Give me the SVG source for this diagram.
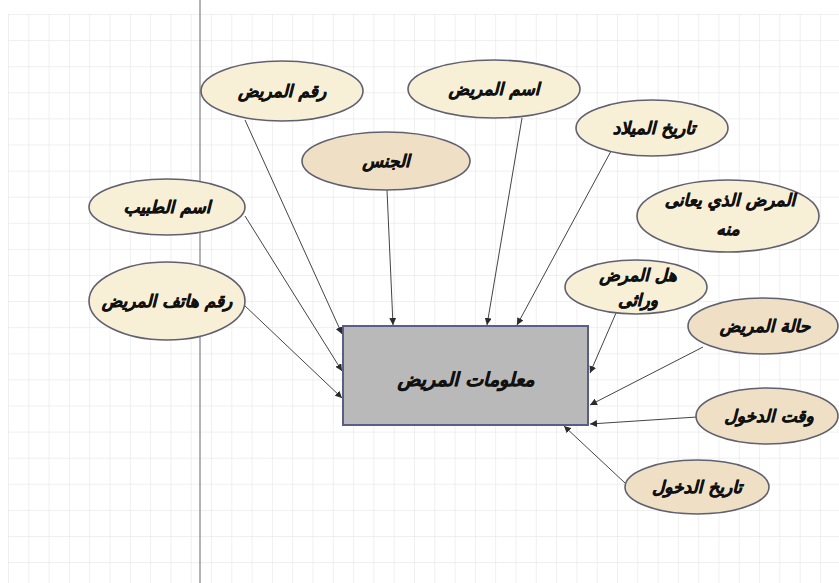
<svg xmlns="http://www.w3.org/2000/svg" width="839" height="583" viewBox="0 0 839 583">
<defs>
<pattern id="grid" x="8" y="14" width="20.3" height="26.1" patternUnits="userSpaceOnUse">
<path d="M0 0 V26.1 M0 0 H20.3" fill="none" stroke="#e0e0e0" stroke-width="1"/>
</pattern>
<marker id="arr" viewBox="0 0 10 10" refX="10" refY="5" markerWidth="7" markerHeight="7" orient="auto" markerUnits="userSpaceOnUse">
<path d="M0 0 L10 5 L0 10 z" fill="#2a2a2a"/>
</marker>
</defs>
<style>
.e1{fill:#f8f0d6;stroke:#5f6070;stroke-width:1.6}
.e2{fill:#efdfc4;stroke:#5f6070;stroke-width:1.6}
.t{font-family:"DejaVu Sans",sans-serif;font-weight:bold;font-style:italic;font-size:17px;fill:#111;stroke:#111;stroke-width:0.5;text-anchor:middle;direction:rtl}
.c{stroke:#444;stroke-width:1;fill:none;marker-end:url(#arr)}
</style>
<rect width="839" height="583" fill="#ffffff"/>
<rect x="8" y="14" width="831" height="569" fill="url(#grid)"/>
<line x1="200" y1="0" x2="200" y2="583" stroke="#9a9a9a" stroke-width="1.5"/>

<g id="connectors">
<line class="c" x1="245" y1="120" x2="342" y2="334"/>
<line class="c" x1="245" y1="216" x2="342" y2="371"/>
<line class="c" x1="244" y1="305" x2="342" y2="398"/>
<line class="c" x1="387" y1="190" x2="393" y2="325"/>
<line class="c" x1="522" y1="118" x2="487" y2="325"/>
<line class="c" x1="617" y1="140" x2="517" y2="325"/>
<line class="c" x1="616" y1="313" x2="590" y2="373"/>
<line class="c" x1="703" y1="347" x2="590" y2="405"/>
<line class="c" x1="697" y1="417" x2="590" y2="424"/>
<line class="c" x1="625" y1="483" x2="564" y2="426"/>
</g>

<g id="main">
<rect x="343" y="326" width="245" height="99" fill="#b9b9b9" stroke="#5a5c8c" stroke-width="2"/>
<text class="t" x="466" y="386" style="font-size:19px">معلومات المريض</text>
</g>

<g id="n-raqm">
<ellipse class="e1" cx="282" cy="91" rx="81" ry="30"/>
<text class="t" x="282" y="97">رقم المريض</text>
</g>
<g id="n-jins">
<ellipse class="e2" cx="386" cy="161" rx="84" ry="29"/>
<text class="t" x="386" y="167">الجنس</text>
</g>
<g id="n-ism">
<ellipse class="e1" cx="494" cy="89" rx="86" ry="29"/>
<text class="t" x="494" y="95">اسم المريض</text>
</g>
<g id="n-milad">
<ellipse class="e1" cx="652" cy="128" rx="76" ry="28"/>
<text class="t" x="654" y="134">تاريخ الميلاد</text>
</g>
<g id="n-marad">
<ellipse class="e1" cx="728" cy="216" rx="91" ry="36"/>
<text class="t" x="730" y="206">المرض الذي يعانى</text>
<text class="t" x="728" y="235">منه</text>
</g>
<g id="n-wirathi">
<ellipse class="e1" cx="636" cy="287" rx="71" ry="27"/>
<text class="t" x="638" y="281">هل المرض</text>
<text class="t" x="638" y="306">وراثى</text>
</g>
<g id="n-hala">
<ellipse class="e2" cx="763" cy="326" rx="75" ry="28"/>
<text class="t" x="765" y="332">حالة المريض</text>
</g>
<g id="n-waqt">
<ellipse class="e2" cx="767" cy="416" rx="71" ry="28"/>
<text class="t" x="769" y="422">وقت الدخول</text>
</g>
<g id="n-tarikh">
<ellipse class="e2" cx="697" cy="487" rx="72" ry="27"/>
<text class="t" x="697" y="493">تاريخ الدخول</text>
</g>
<g id="n-tabib">
<ellipse class="e1" cx="167" cy="207" rx="78" ry="28"/>
<text class="t" x="167" y="213">اسم الطبيب</text>
</g>
<g id="n-hatif">
<ellipse class="e1" cx="167" cy="301" rx="78" ry="39"/>
<text class="t" x="167" y="307">رقم هاتف المريض</text>
</g>
</svg>
